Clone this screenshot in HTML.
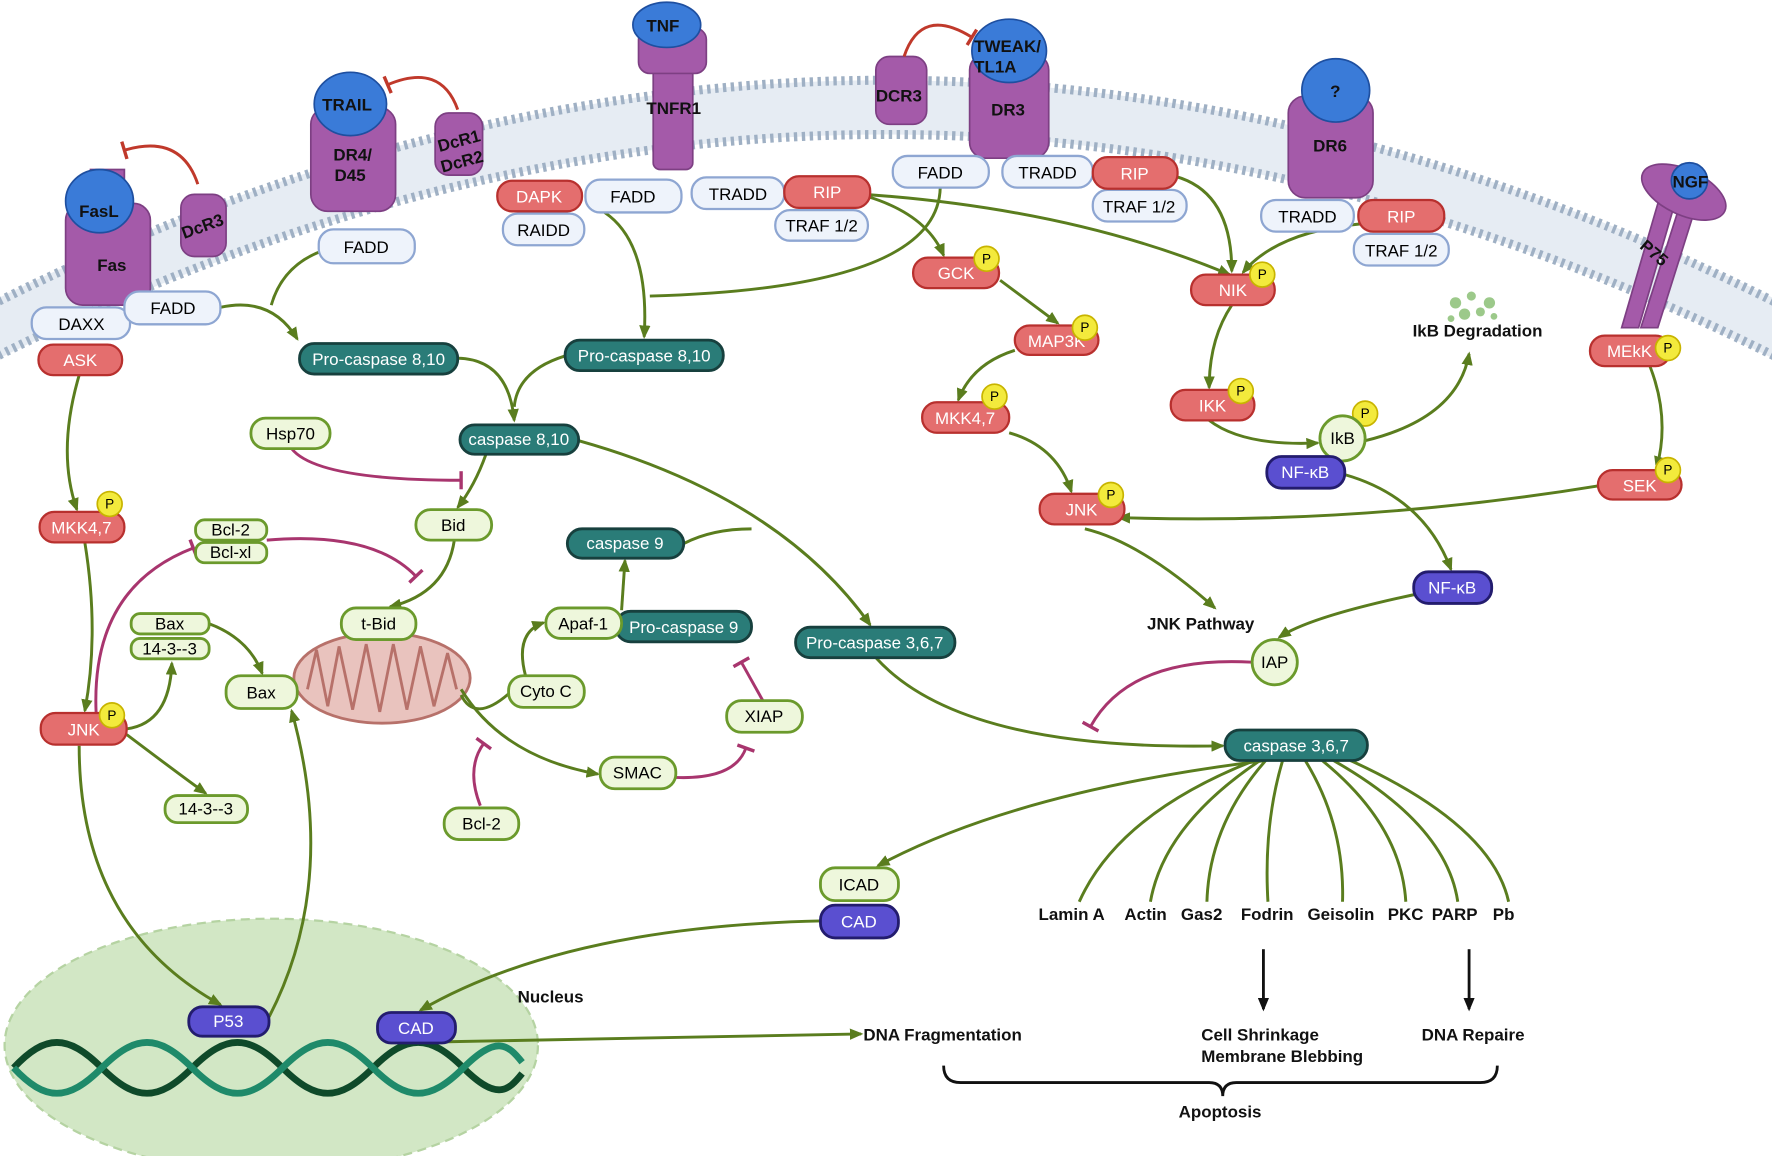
<!DOCTYPE html>
<html><head><meta charset="utf-8"><style>
html,body{margin:0;padding:0;background:#fff}
svg{display:block}
text{font-family:"Liberation Sans",sans-serif;font-size:15px}
.b{font-weight:bold;fill:#111}
.pb rect{fill:#eef3fb;stroke:#8ea6d2;stroke-width:2}
.rd rect{fill:#e46e6e;stroke:#b8302e;stroke-width:2}
.rd text{fill:#fff}
.tl rect{fill:#2a7c78;stroke:#17403e;stroke-width:2.5}
.tl text{fill:#fff}
.lg rect,.lg circle{fill:#eef7dc;stroke:#6b9a2c;stroke-width:2.5}
.pu rect{fill:#5a4fd0;stroke:#231c6e;stroke-width:2.5}
.pu text{fill:#fff}
.g{fill:none;stroke:#5a7d1e;stroke-width:2.6;marker-end:url(#ag)}
.gs{fill:none;stroke:#5a7d1e;stroke-width:2.6}
.m{fill:none;stroke:#a8356e;stroke-width:2.6;marker-end:url(#tm)}
.r{fill:none;stroke:#c0392b;stroke-width:2.6;marker-end:url(#tr)}
.rec{fill:#a45aa9;stroke:#7d3f83;stroke-width:1.5}
.lig{fill:#3a7bd8;stroke:#1e4fa0;stroke-width:1.5}
.P circle{fill:#f3ea3c;stroke:#c8b400;stroke-width:1.5}
.P text{font-size:12px;fill:#000}
</style></head><body>
<svg width="1772" height="1156" viewBox="0 0 1568 1023" xmlns="http://www.w3.org/2000/svg">
<defs>
<marker id="ag" viewBox="-10 -5 12 10" refX="0" refY="0" markerWidth="12" markerHeight="10" orient="auto" markerUnits="userSpaceOnUse"><path d="M-10,-5 L2,0 L-10,5 Z" fill="#5a7d1e"/></marker>
<marker id="ab" viewBox="-10 -5 12 10" refX="0" refY="0" markerWidth="12" markerHeight="10" orient="auto" markerUnits="userSpaceOnUse"><path d="M-10,-5 L2,0 L-10,5 Z" fill="#111"/></marker>
<marker id="tm" viewBox="-2 -8 4 16" markerWidth="4" markerHeight="16" orient="auto" markerUnits="userSpaceOnUse" style="overflow:visible"><path d="M0,-8 L0,8" stroke="#a8356e" stroke-width="3"/></marker>
<marker id="tr" viewBox="-2 -8 4 16" markerWidth="4" markerHeight="16" orient="auto" markerUnits="userSpaceOnUse" style="overflow:visible"><path d="M0,-8 L0,8" stroke="#c0392b" stroke-width="3"/></marker>
</defs>

<path d="M-20,300 Q784,-110 1588,300" fill="none" stroke="#e6ecf3" stroke-width="48"/>
<path d="M-20,276 Q784,-134 1588,276" fill="none" stroke="#9fb0c4" stroke-width="8" stroke-dasharray="3 4"/>
<path d="M-20,324 Q784,-86 1588,324" fill="none" stroke="#9fb0c4" stroke-width="8" stroke-dasharray="3 4"/>

<ellipse cx="240" cy="925" rx="236" ry="112" fill="#d2e7c5" stroke="#b5d3a2" stroke-width="2" stroke-dasharray="8 5"/>
<path d="M12,945 C40,915 60,915 90,945 S140,975 170,945 S220,915 250,945 S300,975 330,945 S380,915 410,945 S450,965 462,950" fill="none" stroke="#0f4a2a" stroke-width="6"/>
<path d="M12,945 C40,975 60,975 90,945 S140,915 170,945 S220,975 250,945 S300,915 330,945 S380,975 410,945 S450,925 462,940" fill="none" stroke="#1f8a6a" stroke-width="6"/>

<ellipse cx="338" cy="600" rx="78" ry="40" fill="#e9c3be" stroke="#b7716a" stroke-width="2.5"/>
<path d="M272,610 L280,575 L290,625 L300,572 L312,628 L324,570 L336,630 L348,570 L360,628 L372,572 L384,625 L396,578 L404,610" fill="none" stroke="#b7716a" stroke-width="2.5"/>

<g>
<rect class="rec" x="58" y="180" width="75" height="90" rx="15"/><rect class="rec" x="80" y="150" width="30" height="40"/>
<ellipse class="lig" cx="88" cy="178" rx="30" ry="28"/><text class="b" x="70" y="192">FasL</text><text class="b" x="86" y="240">Fas</text>
<rect class="rec" x="160" y="172" width="40" height="55" rx="12"/><text class="b" x="160" y="205" transform="rotate(-20 180 200)">DcR3</text>
<rect class="rec" x="275" y="95" width="75" height="92" rx="15"/><ellipse class="lig" cx="310" cy="92" rx="32" ry="28"/><text class="b" x="285" y="98">TRAIL</text><text class="b" x="295" y="142">DR4/</text><text class="b" x="296" y="160">D45</text>
<rect class="rec" x="385" y="100" width="42" height="55" rx="12"/><text class="b" x="387" y="130" transform="rotate(-15 405 125)">DcR1</text><text class="b" x="390" y="149" transform="rotate(-15 405 145)">DcR2</text>
<rect class="rec" x="578" y="30" width="35" height="120" rx="6"/><rect class="rec" x="565" y="25" width="60" height="40" rx="10"/><ellipse class="lig" cx="590" cy="22" rx="30" ry="20"/><text class="b" x="572" y="28">TNF</text><text class="b" x="572" y="101">TNFR1</text>
<rect class="rec" x="775" y="50" width="45" height="60" rx="12"/><text class="b" x="775" y="90">DCR3</text>
<rect class="rec" x="858" y="48" width="70" height="92" rx="14"/><ellipse class="lig" cx="893" cy="45" rx="33" ry="28"/><text class="b" x="862" y="46">TWEAK/</text><text class="b" x="862" y="64">TL1A</text><text class="b" x="877" y="102">DR3</text>
<rect class="rec" x="1140" y="85" width="75" height="90" rx="15"/><ellipse class="lig" cx="1182" cy="80" rx="30" ry="28"/><text class="b" x="1177" y="86">?</text><text class="b" x="1162" y="134">DR6</text>
<path d="M1435,290 L1470,170 L1485,170 L1450,290 Z" class="rec"/><path d="M1452,290 L1487,180 L1500,185 L1467,290 Z" class="rec"/><ellipse class="rec" cx="1490" cy="170" rx="40" ry="20" transform="rotate(25 1490 170)"/><circle class="lig" cx="1495" cy="160" r="16"/><text class="b" x="1480" y="166">NGF</text><text class="b" x="1450" y="230" transform="rotate(40 1465 225)">P75</text>
</g>

<path class="g" d="M195,272 Q240,262 263,300"/>
<path class="gs" d="M285,222 Q250,235 240,270"/>
<path class="g" d="M535,188 Q575,215 570,298"/>
<path class="gs" d="M832,166 Q830,255 575,262"/>
<path class="g" d="M405,317 Q450,318 455,372"/>
<path class="gs" d="M500,315 Q458,328 455,360"/>
<path class="g" d="M430,402 Q420,430 405,449"/>
<path class="g" d="M512,390 Q690,440 770,553"/>
<path class="g" d="M402,478 Q395,525 345,537"/>
<path class="g" d="M768,174 Q820,190 835,226"/>
<path class="g" d="M765,172 Q950,185 1088,243"/>
<path class="g" d="M1040,156 Q1090,170 1090,240"/>
<path class="g" d="M1205,198 Q1130,205 1100,241"/>
<path class="g" d="M885,248 L936,286"/>
<path class="g" d="M898,310 Q860,322 848,354"/>
<path class="g" d="M893,383 Q935,395 948,435"/>
<path class="g" d="M1090,270 Q1070,300 1070,343"/>
<path class="g" d="M1070,372 Q1100,395 1166,392"/>
<path class="g" d="M1208,390 Q1290,370 1300,313"/>
<path class="g" d="M1190,420 Q1260,440 1284,504"/>
<path class="g" d="M1414,430 Q1200,465 990,458"/>
<path class="g" d="M1460,324 Q1478,370 1466,414"/>
<path class="g" d="M960,468 Q1010,480 1075,538"/>
<path class="g" d="M1262,524 Q1160,545 1132,564"/>
<path class="g" d="M70,332 Q50,400 68,451"/>
<path class="g" d="M75,480 Q88,560 75,629"/>
<path class="g" d="M112,645 Q150,640 152,587"/>
<path class="g" d="M112,650 Q165,690 182,702"/>
<path class="g" d="M70,660 Q70,820 195,889"/>
<path class="g" d="M238,900 Q300,780 258,629"/>
<path class="g" d="M185,552 Q220,565 232,596"/>
<path class="gs" d="M408,615 Q420,640 450,614"/>
<path class="g" d="M465,598 Q455,560 481,551"/>
<path class="g" d="M550,540 L553,496"/>
<path class="gs" d="M605,481 Q630,468 665,468"/>
<path class="g" d="M408,610 Q445,670 529,685"/>
<path class="g" d="M775,582 Q850,665 1082,660"/>
<path class="g" d="M1120,673 Q900,700 777,766"/>
<path class="g" d="M726,815 Q500,820 372,894"/>
<path class="g" d="M390,922 L762,915"/>
<path class="gs" d="M1110,673 Q990,720 955,798"/>
<path class="gs" d="M1115,673 Q1030,730 1018,798"/>
<path class="gs" d="M1120,673 Q1070,730 1068,798"/>
<path class="gs" d="M1135,673 Q1118,730 1122,798"/>
<path class="gs" d="M1155,673 Q1190,730 1188,798"/>
<path class="gs" d="M1170,673 Q1240,730 1244,798"/>
<path class="gs" d="M1180,673 Q1280,730 1290,798"/>
<path class="gs" d="M1195,673 Q1320,730 1335,798"/>
<path d="M1118,840 L1118,893" fill="none" stroke="#111" stroke-width="2.5" marker-end="url(#ab)"/>
<path d="M1300,840 L1300,893" fill="none" stroke="#111" stroke-width="2.5" marker-end="url(#ab)"/>
<path d="M835,943 Q835,958 850,958 L1070,958 Q1082,958 1082,970 Q1082,958 1094,958 L1310,958 Q1325,958 1325,943" fill="none" stroke="#111" stroke-width="2.5"/>

<path class="m" d="M258,397 Q280,425 408,425"/>
<path class="m" d="M236,478 Q330,470 368,510"/>
<path class="m" d="M85,631 Q80,520 171,485"/>
<path class="m" d="M425,713 Q412,680 428,658"/>
<path class="m" d="M598,688 Q650,690 660,662"/>
<path class="m" d="M675,620 L656,586"/>
<path class="m" d="M1108,586 Q1000,580 965,643"/>
<path class="r" d="M175,163 Q160,118 110,133"/>
<path class="r" d="M405,97 Q390,55 343,75"/>
<path class="r" d="M800,50 Q815,5 860,33"/>

<g class="pb">
<rect x="28" y="272" width="87" height="28" rx="13"/><rect x="110" y="258" width="85" height="29" rx="13"/>
<rect x="282" y="203" width="85" height="30" rx="13"/><rect x="518" y="159" width="85" height="29" rx="13"/>
<rect x="445" y="189" width="72" height="28" rx="13"/><rect x="612" y="157" width="82" height="28" rx="13"/>
<rect x="686" y="186" width="82" height="27" rx="13"/><rect x="790" y="138" width="85" height="28" rx="13"/>
<rect x="887" y="138" width="80" height="28" rx="13"/><rect x="967" y="168" width="83" height="28" rx="13"/>
<rect x="1116" y="177" width="82" height="28" rx="13"/><rect x="1198" y="207" width="84" height="28" rx="13"/>
</g>
<g text-anchor="middle">
<text x="72" y="292">DAXX</text><text x="153" y="278">FADD</text><text x="324" y="224">FADD</text><text x="560" y="179">FADD</text>
<text x="481" y="209">RAIDD</text><text x="653" y="177">TRADD</text><text x="727" y="205">TRAF 1/2</text><text x="832" y="158">FADD</text>
<text x="927" y="158">TRADD</text><text x="1008" y="188">TRAF 1/2</text><text x="1157" y="197">TRADD</text><text x="1240" y="227">TRAF 1/2</text>
</g>

<g class="rd" text-anchor="middle">
<rect x="34" y="305" width="74" height="27" rx="13"/><text x="71" y="324">ASK</text>
<rect x="440" y="160" width="75" height="27" rx="13"/><text x="477" y="179">DAPK</text>
<rect x="694" y="156" width="76" height="28" rx="13"/><text x="732" y="175">RIP</text>
<rect x="967" y="139" width="75" height="28" rx="13"/><text x="1004" y="159">RIP</text>
<rect x="1202" y="177" width="76" height="28" rx="13"/><text x="1240" y="197">RIP</text>
<rect x="808" y="228" width="76" height="27" rx="13"/><text x="846" y="247">GCK</text>
<rect x="898" y="288" width="74" height="26" rx="13"/><text x="935" y="307">MAP3K</text>
<rect x="816" y="356" width="77" height="27" rx="13"/><text x="854" y="375">MKK4,7</text>
<rect x="920" y="437" width="75" height="27" rx="13"/><text x="957" y="456">JNK</text>
<rect x="1054" y="243" width="74" height="27" rx="13"/><text x="1091" y="262">NIK</text>
<rect x="1036" y="345" width="74" height="27" rx="13"/><text x="1073" y="364">IKK</text>
<rect x="1407" y="297" width="71" height="27" rx="13"/><text x="1442" y="316">MEkK</text>
<rect x="1414" y="416" width="74" height="26" rx="13"/><text x="1451" y="435">SEK</text>
<rect x="35" y="453" width="75" height="27" rx="13"/><text x="72" y="472">MKK4,7</text>
<rect x="36" y="631" width="76" height="28" rx="13"/><text x="74" y="651">JNK</text>
</g>
<g class="P" text-anchor="middle">
<circle cx="873" cy="229" r="11"/><text x="873" y="233">P</text>
<circle cx="960" cy="290" r="11"/><text x="960" y="294">P</text>
<circle cx="880" cy="351" r="11"/><text x="880" y="355">P</text>
<circle cx="983" cy="438" r="11"/><text x="983" y="442">P</text>
<circle cx="1117" cy="243" r="11"/><text x="1117" y="247">P</text>
<circle cx="1098" cy="346" r="11"/><text x="1098" y="350">P</text>
<circle cx="1476" cy="308" r="11"/><text x="1476" y="312">P</text>
<circle cx="1476" cy="416" r="11"/><text x="1476" y="420">P</text>
<circle cx="97" cy="446" r="11"/><text x="97" y="450">P</text>
<circle cx="99" cy="633" r="11"/><text x="99" y="637">P</text>
<circle cx="1208" cy="366" r="11"/><text x="1208" y="370">P</text>
</g>

<g class="tl" text-anchor="middle">
<rect x="265" y="304" width="140" height="27" rx="13"/><text x="335" y="323">Pro-caspase 8,10</text>
<rect x="500" y="301" width="140" height="27" rx="13"/><text x="570" y="320">Pro-caspase 8,10</text>
<rect x="407" y="376" width="105" height="26" rx="13"/><text x="459" y="394">caspase 8,10</text>
<rect x="502" y="468" width="103" height="26" rx="13"/><text x="553" y="486">caspase 9</text>
<rect x="545" y="541" width="120" height="27" rx="13"/><text x="605" y="560">Pro-caspase 9</text>
<rect x="704" y="555" width="141" height="27" rx="13"/><text x="774" y="574">Pro-caspase 3,6,7</text>
<rect x="1084" y="646" width="126" height="27" rx="13"/><text x="1147" y="665">caspase 3,6,7</text>
</g>

<g class="lg" text-anchor="middle">
<rect x="222" y="370" width="70" height="27" rx="13"/><text x="257" y="389">Hsp70</text>
<rect x="368" y="451" width="67" height="27" rx="13"/><text x="401" y="470">Bid</text>
<rect x="173" y="460" width="63" height="18" rx="8"/><text x="204" y="474" font-size="13">Bcl-2</text>
<rect x="173" y="480" width="63" height="18" rx="8"/><text x="204" y="494" font-size="13">Bcl-xl</text>
<rect x="116" y="543" width="69" height="18" rx="8"/><text x="150" y="557" font-size="13">Bax</text>
<rect x="116" y="565" width="69" height="18" rx="8"/><text x="150" y="579" font-size="13">14-3--3</text>
<rect x="302" y="538" width="66" height="28" rx="13"/><text x="335" y="557">t-Bid</text>
<rect x="200" y="598" width="63" height="29" rx="13"/><text x="231" y="618">Bax</text>
<rect x="483" y="538" width="67" height="27" rx="13"/><text x="516" y="557">Apaf-1</text>
<rect x="450" y="598" width="67" height="28" rx="13"/><text x="483" y="617">Cyto C</text>
<rect x="643" y="620" width="67" height="28" rx="13"/><text x="676" y="639">XIAP</text>
<rect x="531" y="670" width="67" height="28" rx="13"/><text x="564" y="689">SMAC</text>
<rect x="146" y="704" width="73" height="24" rx="11"/><text x="182" y="721">14-3--3</text>
<rect x="393" y="715" width="66" height="28" rx="13"/><text x="426" y="734">Bcl-2</text>
<rect x="726" y="768" width="69" height="29" rx="13"/><text x="760" y="788">ICAD</text>
<circle cx="1188" cy="388" r="20"/><text x="1188" y="393">IkB</text>
<circle cx="1128" cy="586" r="20"/><text x="1128" y="591">IAP</text>
</g>

<g class="pu" text-anchor="middle">
<rect x="1121" y="404" width="69" height="28" rx="13"/><text x="1155" y="423">NF-κB</text>
<rect x="1251" y="506" width="69" height="28" rx="13"/><text x="1285" y="525">NF-κB</text>
<rect x="726" y="801" width="69" height="29" rx="13"/><text x="760" y="821">CAD</text>
<rect x="167" y="891" width="71" height="26" rx="12"/><text x="202" y="909">P53</text>
<rect x="334" y="896" width="69" height="27" rx="12"/><text x="368" y="915">CAD</text>
</g>

<g fill="#9cc98a"><circle cx="1288" cy="268" r="5"/><circle cx="1302" cy="262" r="4"/><circle cx="1318" cy="268" r="5"/><circle cx="1296" cy="278" r="5"/><circle cx="1310" cy="276" r="4"/><circle cx="1284" cy="282" r="3"/><circle cx="1322" cy="280" r="3"/></g>

<g class="b" font-size="16">
<text x="1250" y="298" class="b">IkB Degradation</text>
<text x="1015" y="557" class="b">JNK Pathway</text>
<text x="458" y="887" class="b">Nucleus</text>
<text x="764" y="921" class="b">DNA Fragmentation</text>
<text x="919" y="814" class="b">Lamin A</text><text x="995" y="814" class="b">Actin</text><text x="1045" y="814" class="b">Gas2</text>
<text x="1098" y="814" class="b">Fodrin</text><text x="1157" y="814" class="b">Geisolin</text><text x="1228" y="814" class="b">PKC</text>
<text x="1267" y="814" class="b">PARP</text><text x="1321" y="814" class="b">Pb</text>
<text x="1063" y="921" class="b">Cell Shrinkage</text><text x="1063" y="940" class="b">Membrane Blebbing</text>
<text x="1258" y="921" class="b">DNA Repaire</text>
<text x="1043" y="989" class="b">Apoptosis</text>
</g>
</svg>
</body></html>
